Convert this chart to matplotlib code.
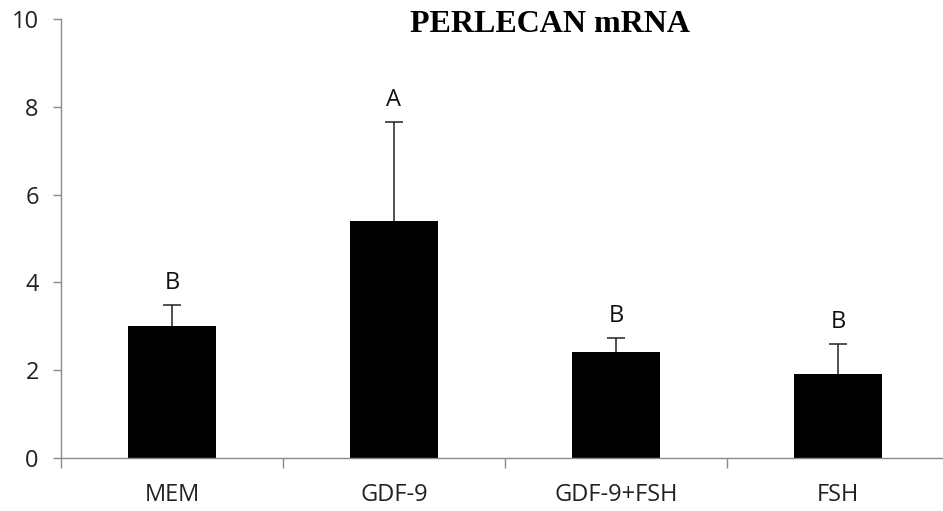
import numpy as np
import matplotlib.pyplot as plt
from matplotlib.ticker import FixedLocator

# PERLECAN mRNA expression by treatment
groups = ["MEM", "GDF-9", "GDF-9+FSH", "FSH"]
means = [3.0, 5.41, 2.41, 1.91]
errors = [0.49, 2.24, 0.33, 0.69]
letters = ["B", "A", "B", "B"]

fig = plt.figure(figsize=(9.43, 5.11), dpi=100)
ax = fig.add_axes([61/943, 53/511, 888/943, 439/511])

x = np.arange(len(groups))
ax.bar(x, means, width=0.40, color="black", zorder=2)
# error bars sit behind the bars so only the upper half shows
ax.errorbar(x, means, yerr=errors, fmt="none",
            ecolor="#222222", elinewidth=1.1, capsize=6.5, capthick=1.1, zorder=1)

for xi, m, e, lab in zip(x, means, errors, letters):
    ax.annotate(lab, (xi, m + e), xytext=(0, 7), textcoords="offset points",
                ha="center", va="bottom", fontsize=17, family="Open Sans",
                color="#111111")

ax.set_xlim(-0.5, 3.5)
ax.set_ylim(0, 10)
ax.set_yticks([0, 2, 4, 6, 8, 10])
ax.set_xticks(x)
ax.set_xticklabels(groups)
ax.xaxis.set_minor_locator(FixedLocator(np.arange(-0.5, 4.0, 1.0)))

grey = "#8a8a8a"
for s in ["top", "right"]:
    ax.spines[s].set_visible(False)
for s in ["left", "bottom"]:
    ax.spines[s].set_color(grey)
    ax.spines[s].set_linewidth(1.0)

ax.tick_params(axis="y", direction="out", length=6, width=1.0, color=grey,
               pad=10, labelsize=17, labelcolor="#222222")
ax.tick_params(axis="x", which="major", length=0, pad=18, labelsize=17,
               labelcolor="#222222")
ax.tick_params(axis="x", which="minor", direction="out", length=7, width=1.0,
               color=grey)
for t in ax.get_xticklabels() + ax.get_yticklabels():
    t.set_family("Open Sans")

fig.text(550/943, 1 - 25/511, "PERLECAN mRNA", ha="center", va="center",
         fontsize=23, fontweight="bold", family="Liberation Serif")

fig.savefig("out.png", dpi=100)
